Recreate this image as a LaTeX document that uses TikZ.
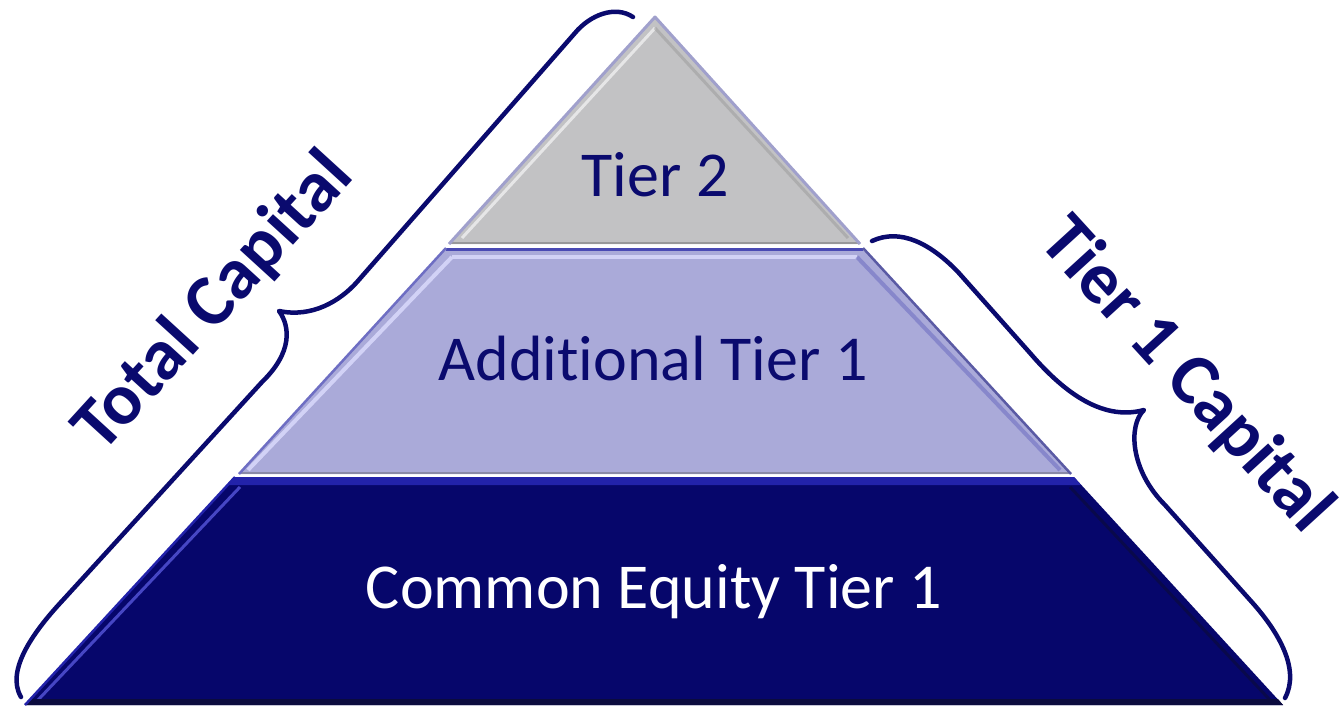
\documentclass[tikz,border=0pt]{standalone}
\usepackage{fontspec}
\setmainfont{Carlito}[Ligatures={NoCommon}]
\definecolor{navy}{HTML}{0A0A6E}
\definecolor{ttwofill}{HTML}{C2C2C4}
\definecolor{ttwoedge}{HTML}{A0A0CC}
\definecolor{atfill}{HTML}{AAAAD9}
\definecolor{attop}{HTML}{4A4AB4}
\definecolor{athl}{HTML}{D2D2F6}
\definecolor{cetfill}{HTML}{06066B}
\definecolor{cettop}{HTML}{2222AA}
\definecolor{cethl}{HTML}{4646C4}
\definecolor{cetdark}{HTML}{0B0B3E}
\tikzset{
  brace/.style={draw=navy, line width=4.5, line cap=round, line join=round},
  tiertext/.style={anchor=base, font=\fontsize{64}{76}\selectfont, inner sep=0},
  sidetext/.style={anchor=base, font=\fontsize{73}{88}\selectfont\bfseries, text=navy, inner sep=0}
}
\begin{document}
\begin{tikzpicture}[x=1pt,y=-1pt]
\useasboundingbox (0,0) rectangle (1343,712);
% ---------- Tier 2 ----------
\fill[ttwofill] (655,17) -- (449,244) -- (860,244) -- cycle;
\draw[white, opacity=.6, line width=3] (462,238) -- (655,28);
\draw[gray!80, opacity=.5, line width=3] (655,28) -- (848,238);
\draw[gray!60!black, opacity=.35, line width=2] (449,243) -- (860,243);
\draw[ttwoedge, line width=3, line join=round] (449,244) -- (655,17) -- (860,244);
% ---------- Additional Tier 1 ----------
\fill[atfill] (446,248) -- (863,248) -- (1071,474) -- (239,474) -- cycle;
\draw[athl, line width=4] (452,257) -- (857,257);
\draw[athl, line width=4] (452,257) -- (248,470);
\draw[attop!60!atfill, opacity=.6, line width=4] (857,257) -- (1060,470);
\draw[gray!60!black, opacity=.35, line width=2] (239,473) -- (1071,473);
\draw[attop, line width=3] (446,249) -- (863,249);
\draw[attop!80, line width=2.5] (446,248) -- (239,474);
\draw[attop!70!gray, line width=2.5] (863,248) -- (1071,474);
% ---------- Common Equity Tier 1 ----------
\fill[cetfill] (235,477) -- (1074,477) -- (1283,705) -- (25,705) -- cycle;
\fill[cettop] (235,477) -- (1074,477) -- (1081,485) -- (228,485) -- cycle;
\draw[cethl, line width=3] (240,487) -- (38,700);
\draw[cetdark, opacity=.7, line width=3] (1070,487) -- (1270,700);
\fill[cetdark] (31,699) -- (1278,699) -- (1283,705) -- (25,705) -- cycle;
\draw[cettop, line width=2.5] (235,477) -- (25,705);
% ---------- texts ----------
\node[tiertext, text=navy] (t2) at (655,196) {Tier 2};
\node[tiertext, text=navy] (at1) at (653,380) {Additional Tier 1};
\node[tiertext, text=white] (cet1) at (654,608) {Common Equity Tier 1};
% ---------- braces ----------
\coordinate (lbtop) at (633,17);
\coordinate (lbtip) at (279,311);
\coordinate (lbbot) at (21,697);
\draw[brace] (lbtop) .. controls (615,5) and (590,15) .. (575,33)
  -- (357,282) .. controls (340,301) and (312,318) .. (lbtip)
  .. controls (290,326) and (293,352) .. (262,382)
  -- (63,600) .. controls (35,630) and (5,670) .. (lbbot);
\coordinate (rbtop) at (872,241);
\coordinate (rbtip) at (1144,410);
\coordinate (rbbot) at (1285,698);
\draw[brace] (rbtop) .. controls (900,228) and (930,243) .. (958,272)
  -- (1030,353) .. controls (1060,388) and (1100,422) .. (rbtip)
  .. controls (1128,425) and (1130,470) .. (1165,505)
  -- (1250,600) .. controls (1280,633) and (1300,670) .. (rbbot);
\node[sidetext, rotate=47.6] (total) at (229,316) {Total Capital};
\node[sidetext, rotate=-47.6] (tierone) at (1171,389) {Tier 1 Capital};
\end{tikzpicture}
\end{document}
